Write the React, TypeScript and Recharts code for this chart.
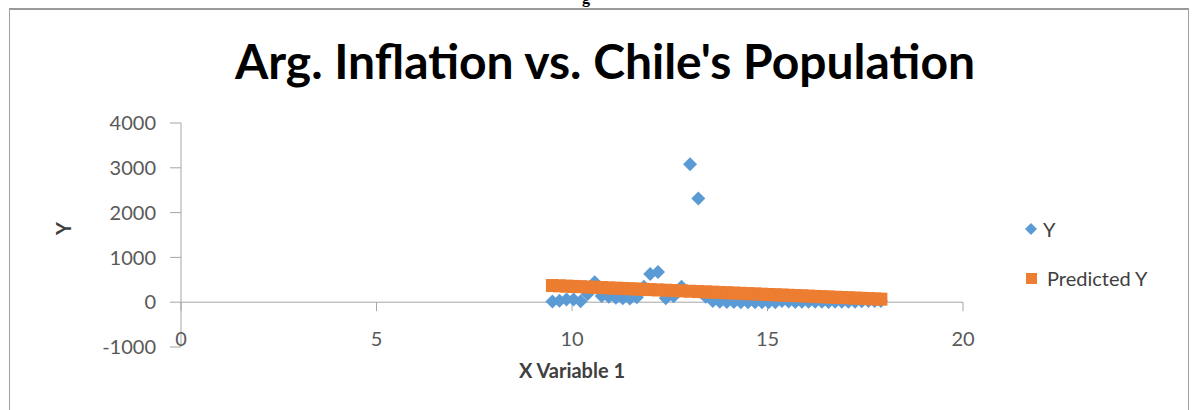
import React from "react";
import {
  ScatterChart,
  Scatter,
  XAxis,
  YAxis,
  ReferenceLine,
} from "recharts";

// Chile population (millions) -> x, Argentine inflation (%) -> y, 1970..2017
const popX = [
  9.5, 9.68, 9.86, 10.04, 10.22, 10.4, 10.58, 10.76, 10.94, 11.12,
  11.3, 11.48, 11.66, 11.84, 12.0, 12.2, 12.4, 12.6, 12.8, 13.02,
  13.23, 13.42, 13.6, 13.78, 13.96, 14.14, 14.32, 14.5, 14.68, 14.86,
  15.03, 15.2, 15.37, 15.54, 15.71, 15.88, 16.05, 16.22, 16.39, 16.56,
  16.73, 16.9, 17.07, 17.24, 17.41, 17.58, 17.74, 17.9,
];
const inflationY = [
  13.6, 34.7, 58.4, 61.2, 23.5, 182.9, 444.0, 140.0, 120.0, 100.0,
  90.0, 80.0, 110.0, 343.8, 626.7, 672.2, 90.1, 131.3, 343.0, 3079.5,
  2314.0, 120.0, 24.9, 10.6, 4.2, 3.4, 0.2, 0.5, 0.9, -1.2,
  -0.9, -1.1, 25.9, 13.4, 4.4, 9.6, 10.9, 8.8, 8.6, 6.3,
  10.5, 9.8, 10.0, 10.6, 23.9, 26.6, 25.0, 24.8,
];
const predictedY = [
  372, 365, 359, 352, 346, 339, 333, 326, 320, 313,
  307, 300, 294, 287, 281, 274, 267, 260, 253, 245,
  237, 230, 224, 217, 211, 204, 198, 191, 185, 178,
  172, 166, 160, 154, 148, 142, 136, 129, 123, 117,
  111, 105, 99, 93, 86, 80, 74, 68,
];
const xTicks = [0, 5, 10, 15, 20];
const yTicks = [-1000, 0, 1000, 2000, 3000, 4000];

const actualData = popX.map((x, i) => ({ x, y: inflationY[i] }));
const predictedData = popX.map((x, i) => ({ x, y: predictedY[i] }));

const FONT = "Lato, 'Open Sans', sans-serif";
const BLUE = "#5B9BD5";
const ORANGE = "#ED7D31";
const AXIS = "#a6a6a6";

const Diamond = (p: any) => {
  const { cx, cy } = p;
  const r = 7;
  return (
    <path
      d={`M${cx},${cy - r}L${cx + r},${cy}L${cx},${cy + r}L${cx - r},${cy}Z`}
      fill={BLUE}
    />
  );
};

const Square = (p: any) => {
  const { cx, cy } = p;
  const s = 13;
  return <rect x={cx - s / 2} y={cy - s / 2} width={s} height={s} fill={ORANGE} />;
};

const XTick = (p: any) => {
  const { x, y, payload } = p;
  return (
    <text
      x={x}
      y={y}
      dy={-9}
      textAnchor="middle"
      dominantBaseline="central"
      fontSize={20}
      fontFamily={FONT}
      fill="#595959"
    >
      {payload.value}
    </text>
  );
};

const LegendBox = () => (
  <div style={{ position: "absolute", left: 1024, top: 216, fontFamily: FONT, fontSize: 20, color: "#404040" }}>
    <div style={{ display: "flex", alignItems: "center", height: 26 }}>
      <svg width={14} height={14} style={{ marginRight: 5 }}>
        <path d="M7,1L13,7L7,13L1,7Z" fill={BLUE} />
      </svg>
      Y
    </div>
    <div style={{ display: "flex", alignItems: "center", height: 26, marginTop: 23 }}>
      <svg width={14} height={14} style={{ marginRight: 9 }}>
        <rect x={2} y={2} width={11} height={11} fill={ORANGE} />
      </svg>
      Predicted Y
    </div>
  </div>
);

export default function App() {
  return (
    <div style={{ position: "absolute", left: 0, top: 0, width: 1197, height: 410, overflow: "hidden", background: "#fff" }}>
      <div style={{ position: "absolute", left: 582, top: -11, fontFamily: "serif", fontWeight: "bold", fontSize: 16 }}>g</div>
      <div
        style={{
          position: "absolute",
          left: 9,
          top: 8,
          width: 1178,
          height: 420,
          borderTop: "2px solid #9a9a9a",
          borderLeft: "1px solid #a0a0a0",
          borderRight: "1px solid #a0a0a0",
        }}
      />
      <div
        style={{
          position: "absolute",
          left: 0,
          width: 1210,
          top: 32,
          textAlign: "center",
          fontFamily: FONT,
          fontWeight: "bold",
          fontSize: 48,
          color: "#000",
        }}
      >
        Arg. Inflation vs. Chile's Population
      </div>
      <div style={{ position: "absolute", left: 0, top: 0 }}>
        <ScatterChart width={1197} height={410} margin={{ top: 123, right: 234, bottom: 33, left: 101 }}>
          <XAxis
            type="number"
            dataKey="x"
            domain={[0, 20]}
            ticks={xTicks}
            axisLine={false}
            tickLine={false}
            tickSize={0}
            tickMargin={0}
            height={30}
            tick={<XTick />}
            label={{
              value: "X Variable 1",
              position: "insideBottom",
              offset: -1,
              fontFamily: FONT,
              fontWeight: "bold",
              fontSize: 20,
              fill: "#404040",
            }}
          />
          <YAxis
            type="number"
            dataKey="y"
            domain={[-1000, 4000]}
            ticks={yTicks}
            width={80}
            tickSize={11}
            tickMargin={14}
            axisLine={{ stroke: AXIS }}
            tickLine={{ stroke: AXIS }}
            tick={{ fontFamily: FONT, fontSize: 20, fill: "#595959" }}
            label={{
              value: "Y",
              angle: -90,
              position: "insideLeft",
              offset: -37,
              fontFamily: FONT,
              fontWeight: "bold",
              fontSize: 20,
              fill: "#404040",
            }}
          />
          <ReferenceLine y={0} stroke={AXIS} />
          {xTicks.map((t) => (
            <ReferenceLine
              key={t}
              segment={[
                { x: t, y: 0 },
                { x: t, y: -200 },
              ]}
              stroke={AXIS}
            />
          ))}
          <Scatter name="Y" data={actualData} shape={<Diamond />} isAnimationActive={false} />
          <Scatter name="Predicted Y" data={predictedData} shape={<Square />} isAnimationActive={false} />
        </ScatterChart>
      </div>
      <LegendBox />
    </div>
  );
}
